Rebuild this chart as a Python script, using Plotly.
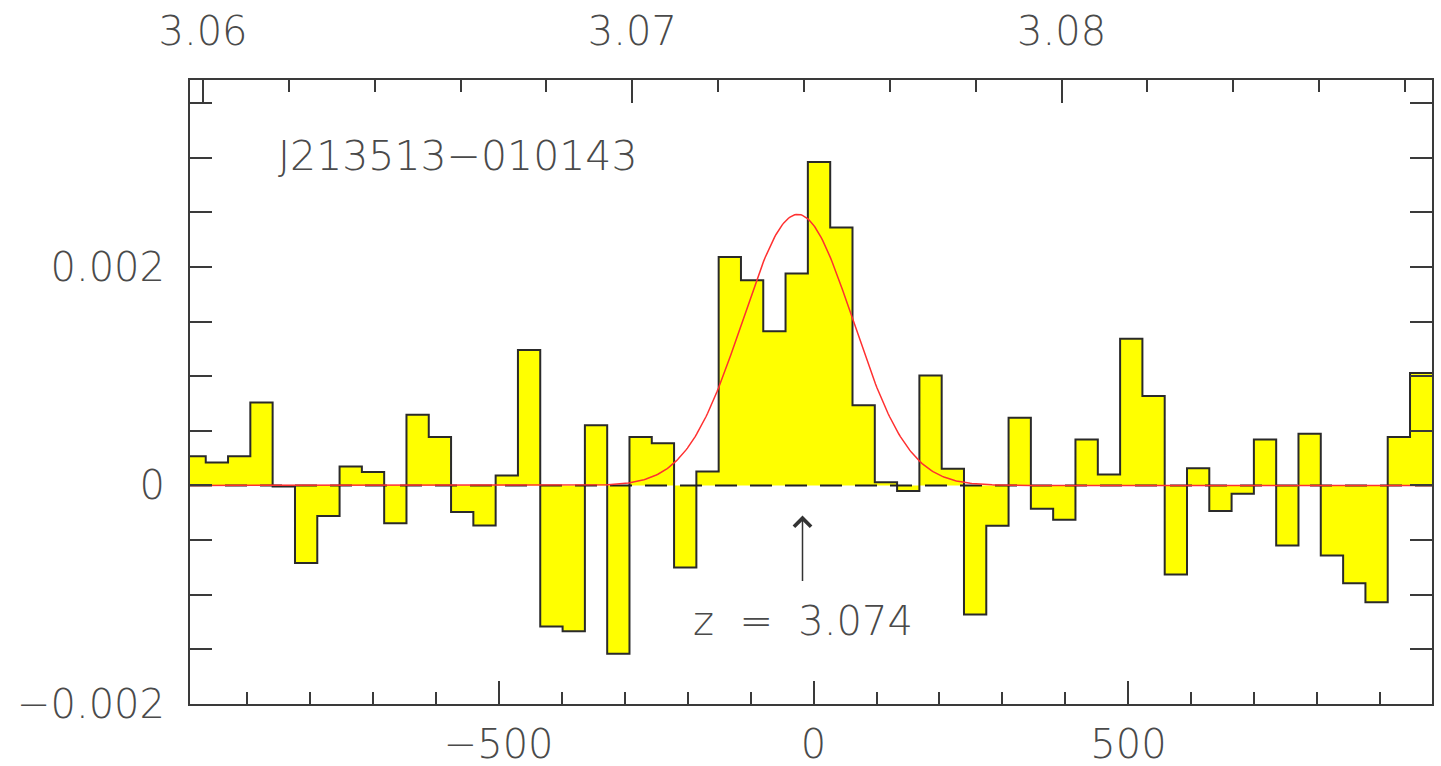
import numpy as np
import plotly.graph_objects as go

# ---- data ----
velocity_centers = [-982.7, -947.3, -911.9, -876.5, -841.1, -805.6, -770.2, -734.8, -699.4, -664.0,
                    -628.6, -593.2, -557.8, -522.4, -487.0, -451.6, -416.2, -380.7, -345.3, -309.9,
                    -274.5, -239.1, -203.7, -168.3, -132.9, -97.5, -62.1, -26.7, 8.7, 44.2,
                    79.6, 115.0, 150.4, 185.8, 221.2, 256.6, 292.0, 327.4, 362.8, 398.2,
                    433.6, 469.1, 504.5, 539.9, 575.3, 610.7, 646.1, 681.5, 716.9, 752.3,
                    787.7, 823.1, 858.6, 894.0, 929.4, 964.8]
channel_width = 35.41
flux = [0.000268, 0.00021, 0.000268, 0.00076, -0.00001, -0.00071, -0.00028, 0.000174, 0.000122, -0.000345,
        0.000647, 0.000443, -0.000244, -0.000366, 0.000092, 0.00124, -0.00129, -0.001334, 0.00055, -0.00154,
        0.000443, 0.000387, -0.00075, 0.000128, 0.00209, 0.001877, 0.00141, 0.001939, 0.00296, 0.00236,
        0.000733, 0.00003, -0.00005, 0.001007, 0.000153, -0.00118, -0.00037, 0.00062, -0.000213, -0.000314,
        0.000421, 0.0001, 0.001343, 0.000818, -0.000815, 0.000158, -0.000235, -0.000076, 0.000421, -0.00055,
        0.000473, -0.00064, -0.000895, -0.00107, 0.000443, 0.00103]

# Gaussian fit parameters
gauss_amp = 0.00248
gauss_center = -25.0
gauss_sigma = 88.0

x_range = [-990, 982]
y_range = [-0.002, 0.00371]
z_range = [3.059697, 3.088628]

x_ticks = [-500, 0, 500]
x_ticktext = ["\u2212500", "0", "500"]
y_ticks = [-0.002, 0, 0.002]
y_ticktext = ["\u22120.002", "0", "0.002"]
z_ticks = [3.06, 3.07, 3.08]
z_ticktext = ["3.06", "3.07", "3.08"]

source_name = "J213513\u2212010143"
z_label = "z\u00a0 =\u00a0 3.074"
z_velocity = -17.5

# ---- build ----
vc = np.array(velocity_centers)
edges = np.append(vc - channel_width / 2, vc[-1] + channel_width / 2)
step_y = np.append(np.array(flux), flux[-1])

vfit = np.linspace(x_range[0], x_range[1], 800)
gfit = gauss_amp * np.exp(-0.5 * ((vfit - gauss_center) / gauss_sigma) ** 2)

FONT = "DejaVu Sans"
TXT = "#4a4a4a"
AX = "#3a3a3a"
fnt = dict(family=FONT, size=40, color=TXT, weight=200)
fnt_big = dict(family=FONT, size=41, color=TXT, weight=200)

fig = go.Figure()
fig.add_trace(go.Scatter(x=edges, y=step_y, mode="lines", line=dict(shape="hv", color="#2a2a2a", width=2),
                         fill="tozeroy", fillcolor="#FFFF00", hoverinfo="skip", showlegend=False))
fig.add_trace(go.Scatter(x=x_range, y=[0, 0], mode="lines",
                         line=dict(color="#222222", width=2, dash="22px,13px"), showlegend=False))
fig.add_trace(go.Scatter(x=vfit, y=gfit, mode="lines", line=dict(color="#FF3030", width=1.5),
                         showlegend=False))
fig.add_trace(go.Scatter(x=z_range, y=[0, 0], xaxis="x2", mode="lines", line=dict(width=0),
                         opacity=0, showlegend=False, hoverinfo="skip"))

fig.add_annotation(x=-853, y=0.003013, xref="x", yref="y", text=source_name, showarrow=False,
                   xanchor="left", yanchor="middle", font=fnt_big)
fig.add_annotation(x=z_velocity, y=-0.001236, xref="x", yref="y", text=z_label, showarrow=False,
                   xanchor="center", yanchor="middle", font=fnt)
fig.add_annotation(x=z_velocity, y=-0.000275, ax=z_velocity, ay=-0.000888, xref="x", yref="y",
                   axref="x", ayref="y", text="", showarrow=True, arrowhead=4, arrowsize=2.2,
                   arrowwidth=1.5, arrowcolor="#333333")

axis_common = dict(showgrid=False, zeroline=False, showline=True, linecolor=AX, linewidth=2,
                   ticks="inside", tickcolor=AX, tickwidth=2, automargin=False, tickfont=fnt)

fig.update_layout(
    width=1441, height=766,
    margin=dict(l=190, r=9, t=80, b=62, autoexpand=False),
    plot_bgcolor="white", paper_bgcolor="white",
    showlegend=False,
    xaxis=dict(range=x_range, tickmode="array", tickvals=x_ticks, ticktext=x_ticktext,
               ticklen=23, mirror=True, ticklabelstandoff=4,
               minor=dict(dtick=100, tick0=0, ticklen=12, ticks="inside", tickcolor=AX, tickwidth=2),
               **axis_common),
    xaxis2=dict(range=z_range, overlaying="x", side="top", tickmode="array", tickvals=z_ticks,
                ticktext=z_ticktext, ticklen=23, ticklabelstandoff=17,
                minor=dict(dtick=0.002, tick0=3.06, ticklen=12, ticks="inside", tickcolor=AX, tickwidth=2),
                **axis_common),
    yaxis=dict(range=y_range, tickmode="array", tickvals=y_ticks, ticktext=y_ticktext,
               ticklen=22, mirror="allticks", ticklabelstandoff=15,
               minor=dict(dtick=0.0005, tick0=0, ticklen=10, ticks="inside", tickcolor=AX, tickwidth=2),
               **axis_common),
)

fig.write_html("out.html", post_script="document.body.style.margin='0';")
